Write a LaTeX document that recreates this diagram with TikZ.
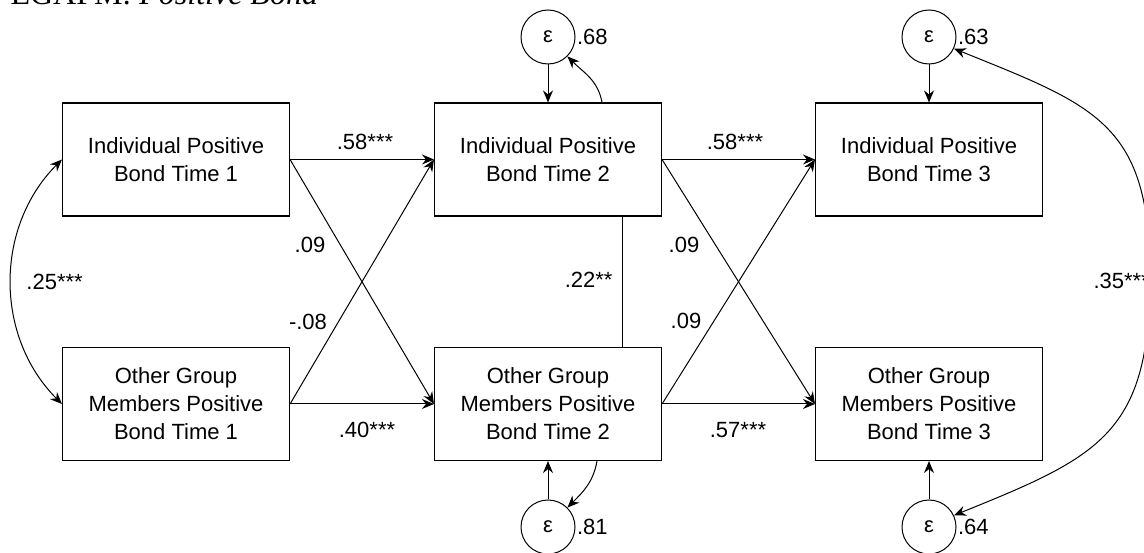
\documentclass[tikz,border=0pt]{standalone}
\usepackage{fontspec}
\setmainfont{Liberation Sans}
\newfontfamily\titlefont{Liberation Serif}
\usetikzlibrary{arrows.meta}
\begin{document}
\begin{tikzpicture}[x=1pt,y=1pt,
  line width=1pt,
  var/.style={draw, line width=1.1pt, minimum width=227pt, minimum height=113pt,
    align=center, font=\fontsize{22}{28}\selectfont, inner sep=0pt},
  err/.style={draw, circle, minimum size=54pt, inner sep=0pt,
    font=\fontsize{22}{26}\selectfont},
  lab/.style={font=\fontsize{22}{26}\selectfont, inner sep=1pt},
  arr/.style={-{Stealth[length=12pt,width=10pt,inset=4pt]}},
  darr/.style={{Stealth[length=12pt,width=10pt,inset=4pt]}-{Stealth[length=12pt,width=10pt,inset=4pt]}}
]
\clip (0,0) rectangle (1144,552);

% heading
\node[anchor=base west, inner sep=0pt, font=\titlefont\fontsize{32}{36}\selectfont]
  (title) at (10,547) {EGAPM: \textit{Positive Bond}};

% observed variables
\node[var] (i1) at (176,392.5) {Individual Positive\\Bond Time 1};
\node[var] (o1) at (176,148)   {Other Group\\Members Positive\\Bond Time 1};
\node[var] (i2) at (548,392.5) {Individual Positive\\Bond Time 2};
\node[var] (o2) at (548,148)   {Other Group\\Members Positive\\Bond Time 2};
\node[var] (i3) at (929,392.5) {Individual Positive\\Bond Time 3};
\node[var] (o3) at (929,148)   {Other Group\\Members Positive\\Bond Time 3};

% residuals
\node[err] (ei2) at (548,515) {ε};
\node[err] (eo2) at (548,25)  {ε};
\node[err] (ei3) at (929,515) {ε};
\node[err] (eo3) at (929,25)  {ε};

\node[lab, anchor=west] (vi2) at (ei2.east) {.68};
\node[lab, anchor=west] (vo2) at (eo2.east) {.81};
\node[lab, anchor=west] (vi3) at (ei3.east) {.63};
\node[lab, anchor=west] (vo3) at (eo3.east) {.64};

\draw[arr] (ei2) -- (i2);
\draw[arr] (eo2) -- (o2);
\draw[arr] (ei3) -- (i3);
\draw[arr] (eo3) -- (o3);

% residual variance loops
\coordinate (i2v) at ([xshift=54pt]i2.north);
\coordinate (o2v) at ([xshift=49pt]o2.south);
\draw[arr] (i2v) to[out=100, in=-45] (ei2.-45);
\draw[arr] (o2v) to[out=-100, in=45] (eo2.45);

% cross-lagged paths, time 1 to time 2
\draw[arr] (i1.east) -- (i2.west);
\draw[arr] (o1.east) -- (o2.west);
\draw[arr] (i1.east) -- (o2.west);
\draw[arr] (o1.east) -- (i2.west);

% cross-lagged paths, time 2 to time 3
\draw[arr] (i2.east) -- (i3.west);
\draw[arr] (o2.east) -- (o3.west);
\draw[arr] (i2.east) -- (o3.west);
\draw[arr] (o2.east) -- (i3.west);

% covariances
\draw[darr] (i1.west) to[out=225, in=135] (o1.west);
\draw ([xshift=74pt]i2.south) -- ([xshift=74pt]o2.north);
\coordinate (rc) at (1150,276);
\draw[darr] (ei3.-25) to[out=-22, in=90, looseness=1.3] (rc)
  to[out=-90, in=22, looseness=1.3] (eo3.25);

% coefficients
\node[lab] (c1) at (365,410) {.58***};
\node[lab] (c2) at (367,122) {.40***};
\node[lab] (c3) at (310,307) {.09};
\node[lab] (c4) at (308,230) {-.08};
\node[lab] (c5) at (735,410) {.58***};
\node[lab] (c6) at (738,122) {.57***};
\node[lab] (c7) at (684,307) {.09};
\node[lab] (c8) at (686,231) {.09};
\node[lab, anchor=east] (c9) at (614,272) {.22**};
\node[lab, anchor=west] (c10) at (25,270) {.25***};
\node[lab, anchor=west] (c11) at (1092,271) {.35***};
\end{tikzpicture}
\end{document}
